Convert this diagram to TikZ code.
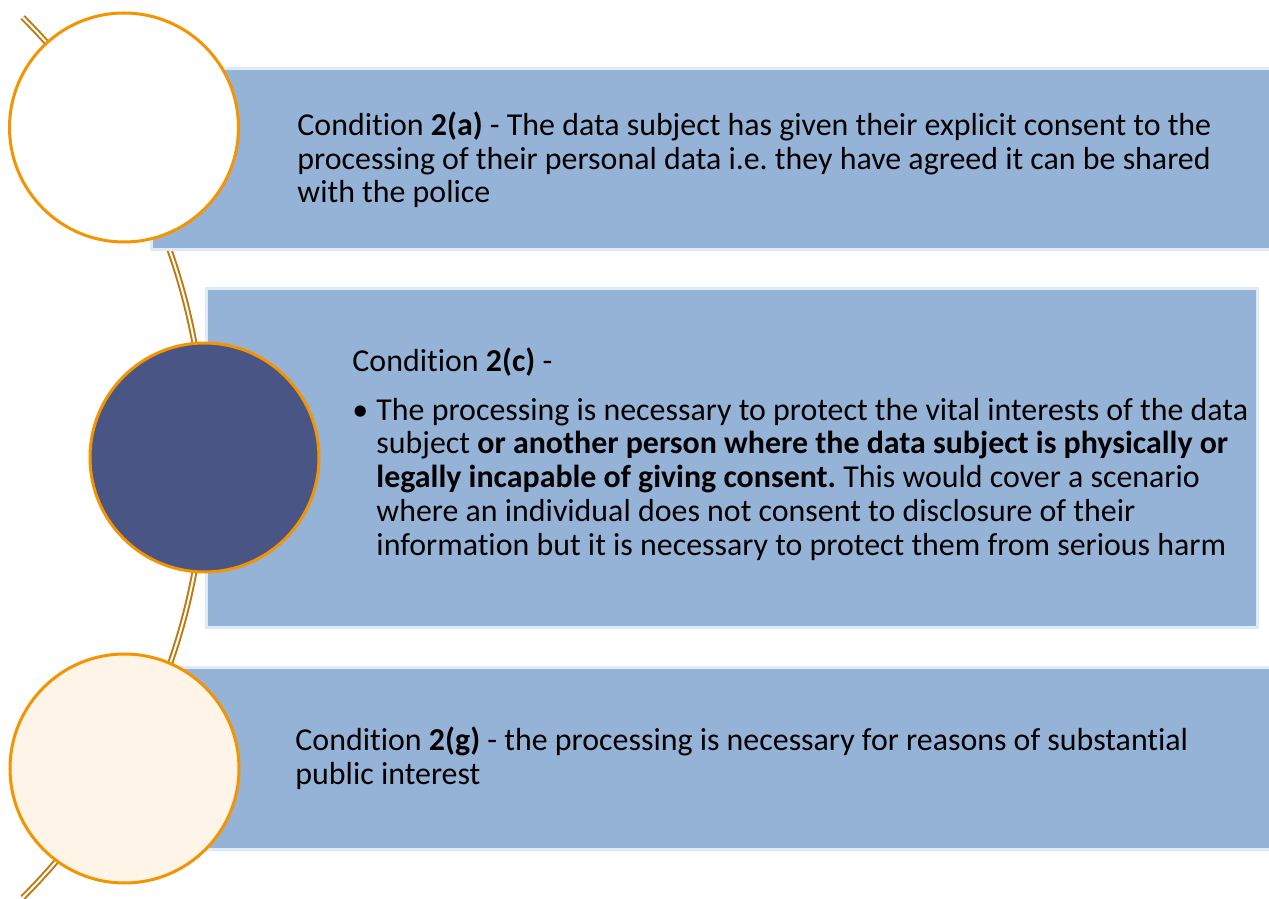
\documentclass[tikz,border=0pt]{standalone}
\usepackage{fontspec}
\setmainfont[Ligatures=NoCommon]{Carlito}
\usetikzlibrary{positioning}
\frenchspacing

\definecolor{boxblue}{RGB}{149,179,215}
\definecolor{boxedge}{RGB}{222,235,247}
\definecolor{ringorange}{RGB}{243,148,0}
\definecolor{arcbrown}{RGB}{190,122,16}
\definecolor{discnavy}{RGB}{72,85,133}
\definecolor{disccream}{RGB}{254,244,232}

\tikzset{
  cond/.style={rectangle, fill=boxblue, draw=boxedge, line width=2.5pt, inner sep=0pt},
  disc/.style={circle, draw=ringorange, line width=3pt, minimum size=229pt, inner sep=0pt},
  condtext/.style={inner sep=0pt, align=left, anchor=west, font=\fontsize{31.9}{33.7}\selectfont},
  link/.style={draw=arcbrown, double=white, line width=2pt, double distance=2pt},
}

\begin{document}
\begin{tikzpicture}[x=1pt,y=1pt]
  \useasboundingbox (0,0) rectangle (1269,898);
  % sweep running behind the discs
  \draw[link] (-417.5,440.5) ++(45:622.5) arc[start angle=45, end angle=-45, radius=622.5pt];
  % panels
  \node[cond, minimum width=1128.5pt, minimum height=181pt] (box1) at (715.75,739) {};
  \node[cond, minimum width=1051pt, minimum height=339pt] (box2) at (732,440) {};
  \node[cond, minimum width=1128.5pt, minimum height=182pt] (box3) at (715.75,139.5) {};
  % discs
  \node[disc, fill=white] (c1) at (124,770.5) {};
  \node[disc, fill=discnavy] (c2) at (204.5,440.5) {};
  \node[disc, fill=disccream] (c3) at (124.5,129.5) {};
  % texts
  \node[condtext] (t1) at ([xshift=147pt,yshift=-1pt]box1.west) {Condition \textbf{2(a)} - The data subject has given their explicit consent to the\\
    processing of their personal data i.e. they have agreed it can be shared\\
    with the police};
  \node[condtext] (t2) at ([xshift=147pt,yshift=4pt]box2.west) {Condition \textbf{2(c)} -\\[15pt]
    \makebox[24pt][l]{\textbullet}The processing is necessary to protect the vital interests of the data\\
    \hspace*{24pt}subject \textbf{or another person where the data subject is physically or}\\
    \hspace*{24pt}\textbf{legally incapable of giving consent.} This would cover a scenario\\
    \hspace*{24pt}where an individual does not consent to disclosure of their\\
    \hspace*{24pt}information but it is necessary to protect them from serious harm};
  \node[condtext] (t3) at ([xshift=145pt]box3.west) {Condition \textbf{2(g)} - the processing is necessary for reasons of substantial\\
    public interest};
\end{tikzpicture}
\end{document}
